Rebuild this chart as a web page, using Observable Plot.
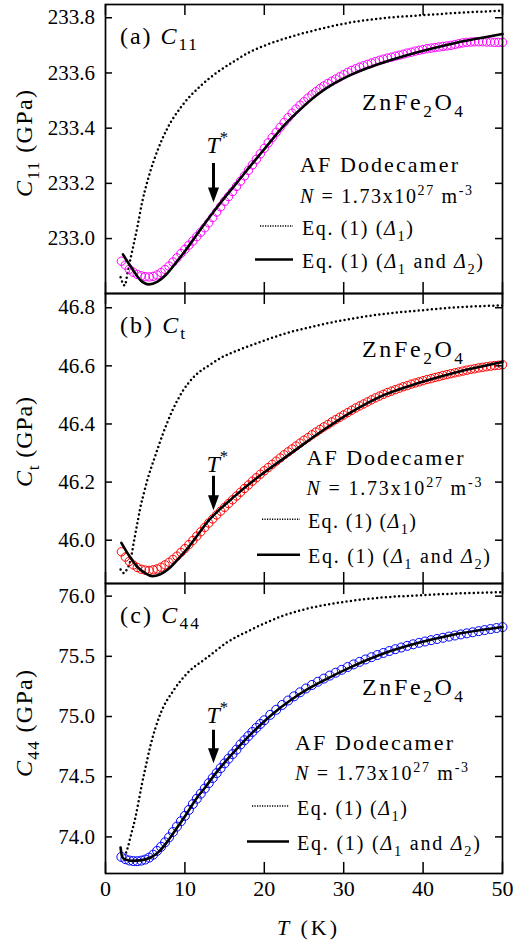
<!DOCTYPE html>
<html><head><meta charset="utf-8">
<script src="https://cdn.jsdelivr.net/npm/d3@7"></script>
<script src="https://cdn.jsdelivr.net/npm/@observablehq/plot@0.6"></script>
<style>
html,body{margin:0;padding:0;background:#fff;}
#chart{position:relative;width:513px;height:945px;overflow:hidden;background:#fff;}
.panel{position:absolute;left:0;}
#chart svg, #chart svg text, #chart svg tspan{font-family:"Liberation Serif","Times New Roman","DejaVu Serif",serif !important;}
</style></head><body><div id="chart"></div>
<script>
const SERIF = "Liberation Serif, Times New Roman, DejaVu Serif, serif";

// ---------- data ----------
const xTicks = [0, 10, 20, 30, 40, 50];
const c11Ticks = [233.0, 233.2, 233.4, 233.6, 233.8];
const ctTicks = [46.0, 46.2, 46.4, 46.6, 46.8];
const c44Ticks = [74.0, 74.5, 75.0, 75.5, 76.0];

// measured temperatures (K)
const tempsAB = [2,2.5,3,3.5,4,4.5,5,5.5,6,6.5,7,7.5,8,8.5,9,9.5,10,10.5,11,11.5,12,12.5,13,13.5,14,14.5,15,15.5,16,16.5,17,17.5,18,18.5,19,19.5,20,20.5,21,21.5,22,22.5,23,23.5,24,24.5,25,25.5,26,26.5,27,27.5,28,28.5,29,29.5,30,30.5,31,31.5,32,32.5,33,33.5,34,34.5,35,35.5,36,36.5,37,37.5,38,38.5,39,39.5,40,40.5,41,41.5,42,42.5,43,43.5,44,44.5,45,45.5,46,46.5,47,47.5,48,48.5,49,49.5,50];
const tempsC = [2,2.5,3,3.5,4,4.5,5,5.5,6,6.5,7,7.5,8,8.5,9,9.5,10,10.5,11,11.5,12,12.5,13,13.5,14,14.5,15,15.5,16,16.5,17,17.5,18,18.5,19,19.5,20,20.75,21.5,22.25,23,23.75,24.5,25.25,26,26.75,27.5,28.25,29,29.75,30.5,31.25,32,32.75,33.5,34.25,35,35.75,36.5,37.25,38,38.75,39.5,40.25,41,41.75,42.5,43.25,44,44.75,45.5,46.25,47,47.75,48.5,49.25,50];

// measured elastic constants (GPa)
const c11Data = [232.918,232.904,232.889,232.878,232.870,232.865,232.862,232.861,232.863,232.868,
232.877,232.888,232.900,232.915,232.930,232.946,232.961,232.976,232.991,233.007,
233.023,233.039,233.057,233.076,233.096,233.115,233.135,233.152,233.170,233.189,
233.208,233.227,233.247,233.267,233.287,233.307,233.327,233.347,233.366,233.385,
233.403,233.421,233.438,233.454,233.469,233.483,233.496,233.509,233.521,233.532,
233.543,233.553,233.562,233.570,233.578,233.586,233.594,233.602,233.609,233.615,
233.621,233.626,233.631,233.636,233.641,233.646,233.650,233.654,233.657,233.661,
233.664,233.668,233.672,233.675,233.679,233.682,233.685,233.688,233.690,233.692,
233.694,233.696,233.698,233.700,233.703,233.706,233.709,233.711,233.712,233.713,
233.713,233.713,233.712,233.712,233.711,233.711,233.711];
const ctData = [45.960,45.942,45.927,45.915,45.906,45.900,45.897,45.896,45.898,45.901,
45.907,45.915,45.924,45.934,45.945,45.958,45.971,45.985,45.999,46.014,
46.029,46.044,46.059,46.073,46.087,46.100,46.113,46.126,46.139,46.152,
46.165,46.178,46.190,46.203,46.215,46.227,46.239,46.250,46.261,46.272,
46.283,46.294,46.304,46.314,46.324,46.334,46.344,46.353,46.363,46.372,
46.381,46.390,46.398,46.407,46.415,46.423,46.431,46.439,46.447,46.455,
46.462,46.469,46.476,46.483,46.490,46.496,46.502,46.508,46.513,46.518,
46.523,46.528,46.532,46.537,46.541,46.545,46.549,46.553,46.556,46.560,
46.563,46.567,46.570,46.573,46.576,46.579,46.582,46.585,46.588,46.590,
46.593,46.595,46.597,46.599,46.601,46.602,46.604];
const c44Data = [73.834,73.815,73.804,73.799,73.798,73.803,73.812,73.828,73.852,73.884,
73.918,73.955,73.996,74.041,74.086,74.130,74.175,74.224,74.273,74.317,
74.359,74.402,74.446,74.489,74.530,74.571,74.611,74.650,74.688,74.725,
74.768,74.803,74.838,74.872,74.906,74.938,74.969,
75.014,75.056,75.096,75.133,75.168,75.201,75.233,75.262,75.289,75.315,
75.340,75.364,75.388,75.411,75.433,75.454,75.474,75.493,75.511,75.528,
75.544,75.559,75.573,75.587,75.600,75.612,75.623,75.634,75.644,75.654,
75.664,75.673,75.682,75.691,75.700,75.709,75.718,75.727,75.735,75.743];

// Eq. (1) with Δ1 and Δ2 (solid)
const c11FitT = [2.2,2.8,3.36,4.41,5.46,6.5,7.56,8.8,10.1,11.3,12.6,13.85,15.1,16.4,18.3,20.4,22.5,24.6,26.7,28.8,30.9,33.0,35.1,39.3,43.5,50];
const c11Fit  = [232.943,232.915,232.891,232.849,232.834,232.843,232.867,232.910,232.958,233.006,233.058,233.106,233.152,233.197,233.265,233.338,233.410,233.470,233.522,233.562,233.593,233.618,233.639,233.675,233.705,233.741];
const ctFitT = [2.0,2.94,4.0,5.04,5.9,6.9,8.0,9.2,10.5,11.75,13.0,14.3,16.2,19.1,23.3,27.5,30.9,35.1,39.3,43.5,50];
const ctFit  = [45.991,45.948,45.908,45.886,45.876,45.883,45.903,45.937,45.977,46.023,46.068,46.104,46.150,46.215,46.298,46.380,46.440,46.500,46.540,46.573,46.613];
const c44FitT = [1.9,2.1,2.5,3.36,4.6,5.67,6.7,7.77,8.8,10.1,11.3,12.6,13.85,15.1,17.0,19.1,21.2,23.3,25.4,27.5,30.9,35.1,39.3,43.5,50];
const c44Fit  = [73.912,73.834,73.812,73.801,73.807,73.829,73.876,73.959,74.056,74.180,74.305,74.415,74.526,74.625,74.765,74.905,75.030,75.135,75.225,75.300,75.410,75.525,75.610,75.675,75.743];

// Eq. (1) with Δ1 only (dotted)
const c11GapT = [1.9,2.4,2.9,3.4,4.0,4.6,5.3,6.0,6.5,7.8,9.5,12.0,14.1,16.2,18.3,20.4,22.5,26.7,30.9,35.1,39.3,43.5,50];
const c11Gap  = [232.860,232.830,232.895,232.960,233.040,233.130,233.210,233.275,233.315,233.400,233.476,233.554,233.603,233.642,233.678,233.703,233.724,233.757,233.783,233.799,233.808,233.816,233.826];
const ctGapT = [1.9,2.3,2.7,3.15,3.57,4.0,4.4,4.83,5.3,6.3,7.35,8.4,9.66,11.3,13.0,14.7,16.8,18.9,22.5,26.7,30.9,35.1,39.3,43.5,50];
const ctGap  = [45.899,45.887,45.900,45.931,45.994,46.057,46.114,46.162,46.210,46.293,46.375,46.445,46.510,46.567,46.601,46.630,46.655,46.676,46.710,46.739,46.762,46.779,46.790,46.800,46.808];
const c44GapT = [2.6,2.75,3.15,3.78,4.2,4.6,5.0,5.67,6.9,8.6,10.3,12.8,15.3,18.3,22.5,26.7,30.9,35.1,39.3,43.5,50];
const c44Gap  = [73.870,73.900,74.000,74.166,74.305,74.443,74.565,74.760,75.020,75.220,75.360,75.490,75.615,75.720,75.840,75.915,75.960,75.990,76.006,76.020,76.033];

// T* arrows: temperature, arrow start and tip values
const tStar = 13.6;
const c11Arrow = [233.272, 233.131];
const ctArrow = [46.220, 46.103];
const c44Arrow = [74.886, 74.612];

// ---------- helpers ----------
const arrowHead = {draw(ctx) { ctx.moveTo(-5.5, -15); ctx.lineTo(5.5, -15); ctx.lineTo(0, 0); ctx.closePath(); }};
const zip = (T, V) => T.map((t, i) => ({t, v: V[i]}));

function rich(sel, parts, o) {
  const fs = o.size;
  const t = sel.append("text").attr("font-family", SERIF).attr("font-size", fs)
    .attr("fill", "#000").style("white-space", "pre");
  if (o.rotate) t.attr("transform", `translate(${o.x},${o.y}) rotate(-90)`).attr("text-anchor", "middle");
  else t.attr("x", o.x).attr("y", o.y).attr("text-anchor", "start");
  if (o.len) t.attr("textLength", o.len).attr("lengthAdjust", "spacing");
  let shift = 0;
  for (const [s, f = ""] of parts) {
    const sub = f.includes("_"), sup = f.includes("^");
    const target = sub ? fs * (o.subShift ?? 0.28) : sup ? -fs * 0.42 : 0;
    const ts = t.append("tspan").text(s);
    if (target !== shift) ts.attr("dy", target - shift);
    shift = target;
    if (f.includes("i")) ts.attr("font-style", "italic");
    if (sub || sup) ts.attr("font-size", fs * (o.scale ?? 0.72));
  }
  return t;
}

const plotW = 513 - 105 - 11;

function makePanel(cfg) {
  const plotH = cfg.height - cfg.mt - cfg.mb;
  const marks = [
    Plot.line(zip(cfg.gapT, cfg.gapV), {x: "t", y: "v", stroke: "#000", strokeWidth: 2.5, strokeDasharray: "0,4.4", strokeLinecap: "round", curve: "monotone-x"}),
    Plot.dot(zip(cfg.circT, cfg.circV), {x: "t", y: "v", r: cfg.r, stroke: cfg.color, strokeWidth: 1, fill: "none"}),
    Plot.line(zip(cfg.fitT, cfg.fitV), {x: "t", y: "v", stroke: "#000", strokeWidth: 2.6, curve: "monotone-x"}),
    Plot.ruleX([{t: tStar, y1: cfg.arrow[0], y2: cfg.arrow[1]}], {x: "t", y1: "y1", y2: "y2", stroke: "#000", strokeWidth: 3, insetBottom: 8}),
    Plot.dot([{t: tStar, v: cfg.arrow[1]}], {x: "t", y: "v", symbol: arrowHead, fill: "#000", stroke: "none"}),
    Plot.tickY(cfg.yTicks, {insetRight: plotW - 7, strokeWidth: 1.5}),
    Plot.tickY(cfg.yTicks, {insetLeft: plotW - 7, strokeWidth: 1.5}),
    Plot.tickX(xTicks, {insetBottom: plotH - 11, strokeWidth: 1.5}),
    Plot.tickX(xTicks, {insetTop: plotH - 11, strokeWidth: 1.5}),
    Plot.frame({strokeWidth: 1.7}),
    Plot.axisY(cfg.yTicks, {tickSize: 0, tickPadding: 10.5, tickFormat: d3.format(".1f"), label: null, fontSize: 21})
  ];
  if (cfg.xAxis) marks.push(Plot.axisX(xTicks, {tickSize: 0, tickPadding: 7, label: null, fontSize: 22}));
  const svg = Plot.plot({
    width: 513, height: cfg.height,
    marginLeft: 105, marginRight: 11, marginTop: cfg.mt, marginBottom: cfg.mb,
    style: {fontFamily: SERIF, fontSize: "21px", color: "#000", background: "none", overflow: "visible"},
    x: {domain: [0, 50], axis: cfg.xAxis ? undefined : null},
    y: {domain: cfg.domain},
    marks
  });
  const g = d3.select(svg).append("g").attr("text-anchor", "start");
  const Y = (r) => cfg.mt + r;
  const L = cfg.lay;
  rich(g, [[cfg.tag + " "], ["C", "i"], [cfg.sub, "_"]], {x: 120, y: Y(39.5), size: 24, len: L.tagLen, scale: 0.72});
  rich(g, [["C", "i"], [cfg.sub, "_"], [" (GPa)"]], {x: 32, y: Y(L.ylab), size: 24, rotate: true, len: L.ylabLen, scale: 0.72});
  rich(g, [["ZnFe"], ["2", "_"], ["O"], ["4", "_"]], {x: 362, y: Y(L.zn), size: 24, len: 101, subShift: 0.3});
  rich(g, [["AF Dodecamer"]], {x: L.afx, y: Y(L.af), size: 22, len: L.afLen});
  rich(g, [["N", "i"], [" = 1.73x10"], ["27", "^"], [" m"], ["-3", "^"]], {x: L.afx, y: Y(L.n), size: 20, len: L.nLen, scale: 0.7});
  rich(g, [["Eq. (1) ("], ["Δ", "i"], ["1", "_"], [")"]], {x: L.eqx, y: Y(L.eq1), size: 20, len: L.eq1Len});
  rich(g, [["Eq. (1) ("], ["Δ", "i"], ["1", "_"], [" and "], ["Δ", "i"], ["2", "_"], [")"]], {x: L.eqx, y: Y(L.eq2), size: 20, len: L.eq2Len});
  g.append("line").attr("x1", L.lx1).attr("x2", L.lx2).attr("y1", Y(L.eq1 - 9)).attr("y2", Y(L.eq1 - 9))
    .attr("stroke", "#000").attr("stroke-width", 1.4).attr("stroke-dasharray", "1.2,1.3");
  g.append("line").attr("x1", L.lx1 - 5).attr("x2", L.lx2).attr("y1", Y(L.eq2 - 8.5)).attr("y2", Y(L.eq2 - 8.5))
    .attr("stroke", "#000").attr("stroke-width", 2.6);
  rich(g, [["T", "i"], ["*", "^"]], {x: 206.5, y: Y(L.tstar), size: 24, scale: 0.7});
  if (cfg.xAxis) rich(g, [["T", "i"], [" (K)"]], {x: 277, y: Y(352), size: 22, len: 60});
  const wrap = document.createElement("div");
  wrap.className = "panel";
  wrap.style.top = cfg.top + "px";
  wrap.appendChild(svg);
  document.getElementById("chart").appendChild(wrap);
}

makePanel({
  top: 0, height: 300, mt: 4, mb: 7, domain: [232.801, 233.848], yTicks: c11Ticks,
  circT: tempsAB, circV: c11Data, fitT: c11FitT, fitV: c11Fit, gapT: c11GapT, gapV: c11Gap,
  arrow: c11Arrow, color: "#ff00ff", r: 4.2, tag: "(a)", sub: "11", xAxis: false,
  lay: {tagLen: 77, ylab: 139.5, ylabLen: 107, zn: 106, afx: 300, af: 168, afLen: 158, n: 199, nLen: 172,
        eqx: 302, eq1: 231, eq1Len: 111, eq2: 264, eq2Len: 181, lx1: 260, lx2: 293, tstar: 149}
});
makePanel({
  top: 290, height: 300, mt: 3, mb: 7, domain: [45.851, 46.849], yTicks: ctTicks,
  circT: tempsAB, circV: ctData, fitT: ctFitT, fitV: ctFit, gapT: ctGapT, gapV: ctGap,
  arrow: ctArrow, color: "#ff0000", r: 4.2, tag: "(b)", sub: "t", xAxis: false,
  lay: {tagLen: 65, ylab: 149, ylabLen: 90, zn: 63.7, afx: 306.5, af: 172, afLen: 157, n: 202, nLen: 175,
        eqx: 308, eq1: 235.3, eq1Len: 108, eq2: 270.3, eq2Len: 182, lx1: 262, lx2: 300, tstar: 179}
});
makePanel({
  top: 580, height: 365, mt: 3, mb: 72, domain: [73.696, 76.105], yTicks: c44Ticks,
  circT: tempsC, circV: c44Data, fitT: c44FitT, fitV: c44Fit, gapT: c44GapT, gapV: c44Gap,
  arrow: c44Arrow, color: "#0000ff", r: 4.5, tag: "(c)", sub: "44", xAxis: true,
  lay: {tagLen: 79, ylab: 140.5, ylabLen: 107, zn: 112, afx: 295, af: 167, afLen: 158, n: 197, nLen: 173,
        eqx: 297, eq1: 232, eq1Len: 110, eq2: 267, eq2Len: 183, lx1: 252, lx2: 289, tstar: 140}
});
</script></body></html>
